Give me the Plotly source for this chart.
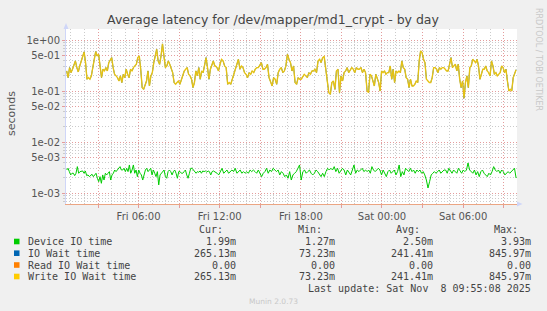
import plotly.graph_objects as go
import pandas as pd

W, H = 547, 311
PL, PR, PT, PB = 66, 517, 29, 204   # plot-area pixel box


def px(x):
    return (x - PL) / (PR - PL)


def py(y):
    return (PB - y) / (PB - PT)


TITLE = "Average latency for /dev/mapper/md1_crypt - by day"
X_RANGE = ["2025-11-07 00:38", "2025-11-08 09:59"]
SEGMENTS = [("2025-11-07 00:41", "2025-11-07 11:38"),
            ("2025-11-07 11:41", "2025-11-07 22:47"),
            ("2025-11-07 22:54", "2025-11-08 09:55")]

# Write IO wait time (seconds), three time segments
write_io_wait = [
    [0.250, 0.185, 0.291, 0.232, 0.270, 0.323, 0.393, 0.291, 0.239, 0.313,
     0.393, 0.492, 0.590, 0.364, 0.172, 0.185, 0.172, 0.200, 0.270, 0.423,
     0.599, 0.492, 0.531, 0.338, 0.185, 0.270, 0.250, 0.291, 0.250, 0.364,
     0.423, 0.456, 0.291, 0.215, 0.200, 0.185, 0.159, 0.200, 0.148, 0.215,
     0.185, 0.270, 0.215, 0.185, 0.270, 0.250, 0.291, 0.313, 0.338, 0.456,
     0.492, 0.270, 0.118, 0.109, 0.127, 0.159, 0.250, 0.127, 0.200, 0.232,
     0.364, 0.492, 0.665, 0.393, 0.338, 0.492, 0.846, 0.492, 0.291, 0.313,
     0.393, 0.338, 0.270, 0.232, 0.148, 0.137, 0.148, 0.159, 0.137, 0.172,
     0.215, 0.250, 0.270, 0.291, 0.215, 0.200, 0.172, 0.118, 0.148, 0.250,
     0.200, 0.291, 0.172, 0.250, 0.232, 0.364, 0.456, 0.291, 0.172, 0.270,
     0.313, 0.393, 0.313],
    [0.313, 0.291, 0.250, 0.338, 0.423, 0.393, 0.313, 0.291, 0.137,
     0.148, 0.137, 0.172, 0.232, 0.270, 0.338, 0.423, 0.270, 0.313, 0.291,
     0.232, 0.215, 0.185, 0.232, 0.215, 0.250, 0.232, 0.270, 0.291, 0.291,
     0.338, 0.364, 0.270, 0.270, 0.291, 0.338, 0.185, 0.148, 0.127, 0.185,
     0.172, 0.137, 0.232, 0.270, 0.291, 0.232, 0.250, 0.313, 0.531, 0.423,
     0.364, 0.250, 0.313, 0.148, 0.137, 0.185, 0.172, 0.172, 0.200, 0.215,
     0.200, 0.185, 0.232, 0.215, 0.250, 0.250, 0.270, 0.232, 0.393, 0.423,
     0.364, 0.456, 0.478, 0.270, 0.127, 0.094, 0.087, 0.148, 0.159, 0.109,
     0.250, 0.270, 0.094, 0.200, 0.159, 0.232, 0.250, 0.291, 0.232, 0.270,
     0.291, 0.270, 0.232, 0.291, 0.270, 0.270, 0.291, 0.232, 0.270, 0.232],
    [0.101, 0.094, 0.215, 0.200, 0.148, 0.127, 0.215, 0.172, 0.148,
     0.101, 0.250, 0.232, 0.250, 0.215, 0.232, 0.232, 0.313, 0.172, 0.270,
     0.148, 0.250, 0.232, 0.250, 0.232, 0.393, 0.291, 0.270, 0.185, 0.172,
     0.118, 0.172, 0.127, 0.127, 0.137, 0.159, 0.148, 0.393, 0.617, 0.572,
     0.423, 0.364, 0.172, 0.159, 0.148, 0.148, 0.185, 0.291, 0.291, 0.270,
     0.232, 0.291, 0.270, 0.291, 0.291, 0.270, 0.250, 0.250, 0.364, 0.456,
     0.291, 0.313, 0.338, 0.250, 0.338, 0.172, 0.118, 0.159, 0.0732, 0.148,
     0.200, 0.118, 0.291, 0.313, 0.423, 0.393, 0.364, 0.423, 0.313, 0.172,
     0.215, 0.270, 0.270, 0.313, 0.250, 0.232, 0.200, 0.393, 0.313, 0.215,
     0.232, 0.200, 0.215, 0.232, 0.313, 0.291, 0.232, 0.270, 0.159, 0.101,
     0.109, 0.101, 0.185, 0.232, 0.265],
]
# IO wait time = read (all 0.00) + write, so identical to write
io_wait = [list(seg) for seg in write_io_wait]

# Device IO time (milliseconds)
device_io_ms = [
    [2.86, 3.09, 2.66, 2.29, 2.47, 2.47, 2.22, 2.47, 3.33, 2.47,
     2.66, 2.74, 2.74, 2.47, 2.74, 2.22, 2.29, 2.12, 2.22, 2.36,
     2.12, 2.29, 2.47, 1.97, 1.69, 2.12, 1.57, 2.29, 1.82, 2.47,
     2.29, 2.47, 2.66, 1.82, 2.29, 2.47, 2.86, 2.66, 2.86, 3.09,
     3.33, 2.86, 2.86, 3.09, 2.66, 3.09, 2.66, 3.59, 2.47, 2.86,
     3.59, 2.47, 2.86, 2.12, 2.86, 2.47, 2.29, 1.82, 2.47, 2.86,
     3.09, 2.66, 2.86, 3.09, 2.29, 2.86, 2.47, 2.12, 2.66, 1.46,
     2.29, 2.47, 2.66, 2.86, 2.12, 1.97, 2.66, 2.86, 2.66, 2.29,
     2.66, 2.86, 2.47, 1.97, 2.66, 2.66, 2.47, 2.47, 2.66, 2.86,
     2.29, 1.97, 2.47, 3.09, 3.09, 2.86, 2.66, 2.47, 2.66, 2.58,
     2.74, 2.47, 2.74, 2.66, 2.74, 2.58, 2.74, 2.66, 2.29, 2.66,
     2.74, 2.66],
    [2.66, 2.47, 2.29, 2.66, 3.09, 2.47, 2.66, 2.86, 2.47, 2.66,
     2.86, 2.66, 3.09, 2.47, 2.66, 2.86, 2.47, 2.66, 2.47, 2.66,
     2.47, 2.86, 2.66, 2.86, 2.66, 2.47, 2.86, 2.47, 2.12, 2.47,
     2.66, 3.09, 2.47, 2.86, 2.66, 3.09, 2.86, 2.66, 2.86, 2.29,
     2.66, 2.47, 2.12, 2.29, 1.97, 2.66, 1.82, 2.29, 2.47, 2.66,
     3.09, 3.59, 1.82, 2.66, 2.86, 2.47, 2.66, 2.86, 2.47, 2.29,
     2.47, 2.86, 2.66, 2.29, 2.12, 2.47, 2.12, 2.66, 3.09, 2.86,
     3.09, 2.86, 3.33, 2.66, 3.09, 2.47, 2.86, 3.09, 2.86, 2.29,
     2.86, 2.47, 2.29, 2.86, 3.59, 2.47, 2.86, 2.66, 2.86, 3.09,
     2.66, 2.86],
    [2.66, 2.86, 2.47, 3.33, 2.86, 2.66, 2.86, 3.09, 2.86,
     2.29, 2.86, 2.47, 2.12, 2.66, 2.86, 2.47, 2.66, 2.86, 2.29,
     2.66, 3.59, 2.12, 2.66, 2.29, 3.09, 2.86, 2.66, 3.09, 2.66,
     2.86, 2.47, 2.86, 2.66, 2.86, 2.47, 2.66, 2.29, 1.82, 1.27,
     1.69, 2.29, 2.47, 2.66, 2.47, 2.66, 2.86, 2.47, 2.66, 2.86,
     2.86, 2.47, 3.09, 2.66, 2.47, 2.86, 2.66, 2.47, 3.09, 2.66,
     2.47, 2.86, 2.66, 2.86, 3.93, 2.86, 2.66, 2.47, 2.86, 2.29,
     2.66, 2.12, 2.66, 2.86, 2.47, 2.29, 2.12, 2.47, 2.29, 2.66,
     3.33, 2.86, 2.66, 2.86, 2.47, 2.86, 2.66, 2.29, 2.47, 2.66,
     2.47, 2.66, 2.86, 3.09, 1.99],
]

SERIES_NAMES = ["Device IO time", "IO Wait time", "Read IO Wait time", "Write IO Wait time"]
SERIES_COLORS = ["#00CC00", "#0066B3", "#FF8000", "#FFCC00"]
STAT_CUR = ["1.99m", "265.13m", "0.00", "265.13m"]
STAT_MIN = ["1.27m", "73.23m", "0.00", "73.23m"]
STAT_AVG = ["2.50m", "241.41m", "0.00", "241.41m"]
STAT_MAX = ["3.93m", "845.97m", "0.00", "845.97m"]

Y_TICKS = [1e-3, 5e-3, 1e-2, 5e-2, 1e-1, 5e-1, 1]
Y_TICKTEXT = ["1e-03", "5e-03", "1e-02", "5e-02", "1e-01", "5e-01", "1e+00"]
Y_MINOR = [m * d for d in [1e-4, 1e-3, 1e-2, 1e-1] for m in [2, 3, 4, 6, 7, 8, 9]
           if 6e-4 < m * d < 1]
X_TICKS = list(pd.date_range("2025-11-07 03:00", "2025-11-08 09:00", freq="3h"))
X_TICKTEXT = [t.strftime("%a %H:%M") if t.hour % 6 == 0 else "" for t in X_TICKS]


def seg_times(seg_lists):
    parts = [pd.date_range(s, e, periods=len(v)) for (s, e), v in zip(SEGMENTS, seg_lists)]
    return parts[0].append(parts[1:])


def flat(seg_lists):
    return [v for seg in seg_lists for v in seg]


MGRID = "#E49C9C"
GRID = "#CBCBCB"
AXIS = "#CFD6F8"
FONT = "DejaVu Sans"
MONO = "DejaVu Sans Mono"
TXT = "#555555"

fig = go.Figure()
fig.add_trace(go.Scatter(x=seg_times(io_wait), y=flat(io_wait), mode="lines",
                         line=dict(color=SERIES_COLORS[1], width=1), hoverinfo="skip"))
fig.add_trace(go.Scatter(x=seg_times(write_io_wait), y=flat(write_io_wait), mode="lines",
                         line=dict(color=SERIES_COLORS[3], width=1.4), opacity=0.88,
                         hoverinfo="skip"))
fig.add_trace(go.Scatter(x=seg_times(device_io_ms), y=[v / 1000 for v in flat(device_io_ms)],
                         mode="lines", line=dict(color=SERIES_COLORS[0], width=1),
                         hoverinfo="skip"))

fig.update_layout(
    width=W, height=H,
    margin=dict(l=PL, r=W - PR, t=PT, b=H - PB, autoexpand=False),
    paper_bgcolor="#F0F0F0", plot_bgcolor="#FFFFFF",
    showlegend=False,
    title=dict(text=TITLE, x=273 / W, xanchor="center", xref="container",
               y=1 - 20 / H, yanchor="middle", yref="container",
               font=dict(family=FONT, size=12.5, color="#444444")),
    xaxis=dict(type="date", range=X_RANGE, tickmode="array", tickvals=X_TICKS,
               ticktext=X_TICKTEXT, showgrid=True, gridcolor=MGRID, griddash="1px,2px",
               gridwidth=1, ticks="outside", ticklen=3, tickcolor=MGRID,
               showline=True, linecolor="#EBA583", linewidth=1, zeroline=False,
               tickfont=dict(family=FONT, size=10, color=TXT),
               minor=dict(dtick=3600000, tick0="2025-11-07 00:00", showgrid=True,
                          gridcolor=GRID, griddash="1px,2px", ticks="")),
    yaxis=dict(type="log", range=[-3.21, 0.22], tickmode="array", tickvals=Y_TICKS,
               ticktext=Y_TICKTEXT, showgrid=True, gridcolor=MGRID, griddash="1px,2px",
               ticks="outside", ticklen=3, tickcolor=MGRID,
               showline=True, linecolor=AXIS, linewidth=1, zeroline=False,
               tickfont=dict(family=FONT, size=10, color=TXT),
               minor=dict(tickmode="array", tickvals=Y_MINOR, showgrid=True,
                          gridcolor=GRID, griddash="1px,2px", ticks="outside",
                          ticklen=2, tickcolor=GRID)),
)

ann = []


def text(x, y, s, anchor="left", font=MONO, size=10, color="#444444", angle=0):
    ann.append(dict(x=px(x), y=py(y), xref="paper", yref="paper", text=s, showarrow=False,
                    xanchor=anchor, yanchor="middle", textangle=angle,
                    font=dict(family=font, size=size, color=color)))


text(11, 114, "seconds", anchor="center", font=FONT, size=11, color=TXT, angle=-90)
text(538, 59, "RRDTOOL / TOBI OETIKER", anchor="center", font=FONT, size=8,
     color="#C8C8C8", angle=90)
text(273, 301.5, "Munin 2.0.73", anchor="center", font=FONT, size=7.5, color="#C8C8C8")

COL_HDR = [225, 324, 422, 520]
COL_VAL = [238, 337, 435, 533]
for h, xh in zip(["Cur:", "Min:", "Avg:", "Max:"], COL_HDR):
    text(xh, 229, h, anchor="right")

ROW_Y = [241.5, 253.2, 265, 276.5]
shapes = []
for i, name in enumerate(SERIES_NAMES):
    yy = ROW_Y[i]
    shapes.append(dict(type="rect", xref="paper", yref="paper", x0=px(14), x1=px(19.5),
                       y0=py(yy + 2.8), y1=py(yy - 2.8), fillcolor=SERIES_COLORS[i],
                       line=dict(width=0)))
    text(26, yy, name)
    for vals, xv in zip([STAT_CUR, STAT_MIN, STAT_AVG, STAT_MAX], COL_VAL):
        text(xv, yy, vals[i], anchor="right")

text(533, 288.3, "Last update: Sat Nov  8 09:55:08 2025".replace(" ", "&nbsp;"), anchor="right")

# axis arrows
shapes.append(dict(type="path", xref="paper", yref="paper",
                   path=f"M {px(63.5)} {py(29)} L {px(68.5)} {py(29)} L {px(66)} {py(23)} Z",
                   fillcolor=AXIS, line=dict(width=0)))
shapes.append(dict(type="path", xref="paper", yref="paper",
                   path=f"M {px(517)} {py(201.5)} L {px(517)} {py(206.5)} L {px(522.5)} {py(204)} Z",
                   fillcolor=AXIS, line=dict(width=0)))

fig.update_layout(annotations=ann, shapes=shapes)
fig.write_html("out.html")
